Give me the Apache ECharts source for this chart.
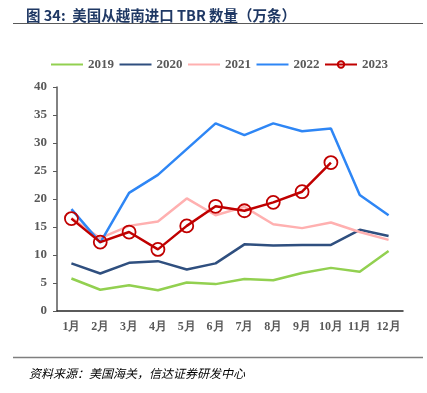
<!DOCTYPE html>
<html><head><meta charset="utf-8">
<script src="https://cdn.jsdelivr.net/npm/echarts@6/dist/echarts.min.js"></script>
<style>html,body{margin:0;padding:0;background:#fff}#c{width:427px;height:393px}</style>
</head><body><div id="c"></div>
<script>
const months = ['1月','2月','3月','4月','5月','6月','7月','8月','9月','10月','11月','12月'];
const s2019 = [5.8, 3.8, 4.6, 3.7, 5.1, 4.8, 5.7, 5.5, 6.8, 7.7, 7.0, 10.7];
const s2020 = [8.5, 6.7, 8.6, 8.9, 7.4, 8.5, 11.9, 11.7, 11.8, 11.8, 14.5, 13.4];
const s2021 = [16.6, 13.0, 15.2, 16.0, 20.1, 17.1, 18.6, 15.5, 14.8, 15.8, 14.1, 12.7];
const s2022 = [18.2, 12.2, 21.1, 24.3, 28.9, 33.5, 31.4, 33.5, 32.1, 32.6, 20.7, 17.1];
const s2023 = [16.5, 12.3, 14.1, 11.0, 15.2, 18.7, 17.9, 19.4, 21.3, 26.5];
const seriesNames = ['2019','2020','2021','2022','2023'];
const yTicks = {min: 0, max: 40, interval: 5};

const chart = echarts.init(document.getElementById('c'));
const serifBold = {fontFamily: 'Liberation Serif, "Times New Roman", serif', fontWeight: 'bold', color: '#595959', fontSize: 13};
function lineSeries(name, data, color) {
  return {name, type: 'line', data, symbol: 'none', lineStyle: {color, width: 2.5}, itemStyle: {color}, emphasis: {disabled: true}};
}
chart.setOption({
  animation: false,
  title: [
    {text: '图 34:  美国从越南进口 TBR 数量（万条）', left: 21, top: 3,
     textStyle: {fontSize: 14.5, fontWeight: 'bold', color: '#1f3864', fontFamily: '"Noto Sans CJK SC", Arial, sans-serif'}},
    {text: '资料来源：美国海关，信达证券研发中心', left: 24, top: 362,
     textStyle: {fontSize: 12, fontWeight: 'normal', fontStyle: 'italic', color: '#000', fontFamily: '"Noto Sans CJK SC", sans-serif'}}
  ],
  graphic: [
    {type: 'line', shape: {x1: 13, y1: 23.5, x2: 423, y2: 23.5}, style: {stroke: '#595959', lineWidth: 1}},
    {type: 'line', shape: {x1: 13, y1: 357.5, x2: 423, y2: 357.5}, style: {stroke: '#7f7f7f', lineWidth: 1.5}}
  ],
  legend: {
    top: 53, left: 45, itemWidth: 32, itemHeight: 8, itemGap: 4.5,
    textStyle: serifBold,
    data: seriesNames.map(n => n === '2023' ? {name: n} : {name: n, itemStyle: {opacity: 0}})
  },
  grid: {left: 57, right: 24, top: 87, bottom: 82},
  xAxis: {
    type: 'category', data: months, boundaryGap: true,
    axisLine: {lineStyle: {color: '#262626', width: 1.5}},
    axisTick: {inside: true, length: 4, lineStyle: {color: '#262626'}},
    axisLabel: Object.assign({}, serifBold, {fontSize: 12, margin: 10, interval: 0})
  },
  yAxis: {
    type: 'value', min: yTicks.min, max: yTicks.max, interval: yTicks.interval,
    splitLine: {show: false},
    axisLine: {show: true, lineStyle: {color: '#595959', width: 1.5}},
    axisTick: {show: true, length: 4, lineStyle: {color: '#595959'}},
    axisLabel: Object.assign({}, serifBold, {margin: 10})
  },
  series: [
    lineSeries('2019', s2019, '#92d050'),
    lineSeries('2020', s2020, '#2f4f7f'),
    lineSeries('2021', s2021, '#ffb0b0'),
    lineSeries('2022', s2022, '#2e86f5'),
    {name: '2023', type: 'line', data: s2023, symbol: 'circle', symbolSize: 13, showSymbol: true,
     lineStyle: {color: '#c00000', width: 2.5},
     itemStyle: {color: 'rgba(255,255,255,0)', borderColor: '#c00000', borderWidth: 1.8},
     emphasis: {disabled: true}}
  ]
});
</script></body></html>
